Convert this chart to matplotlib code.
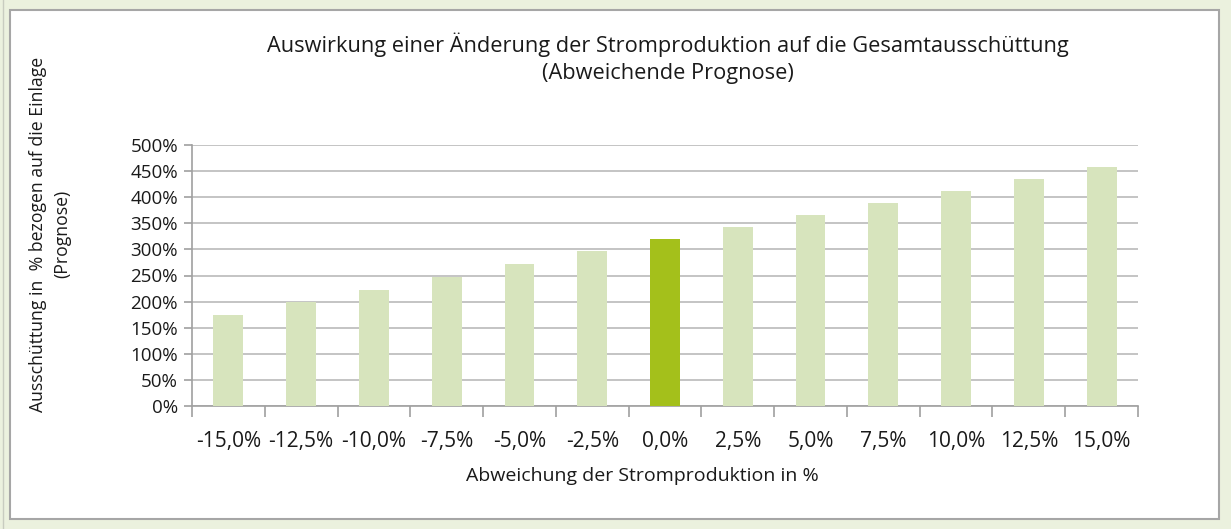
import matplotlib
matplotlib.use("Agg")
import matplotlib.pyplot as plt
from matplotlib.patches import Rectangle
import numpy as np

categories = ["-15,0%", "-12,5%", "-10,0%", "-7,5%", "-5,0%", "-2,5%", "0,0%",
              "2,5%", "5,0%", "7,5%", "10,0%", "12,5%", "15,0%"]
values = [174, 200, 223, 248, 272, 296, 320, 343, 366, 389, 412, 435, 458]
highlight = "0,0%"
yticks = [0, 50, 100, 150, 200, 250, 300, 350, 400, 450, 500]

plt.rcParams['font.family'] = ['Open Sans', 'DejaVu Sans']

fig = plt.figure(figsize=(12.31, 5.29), dpi=100)
fig.patch.set_facecolor('#EBF1DE')
W, H = 1231, 529
# white chart frame
frame = Rectangle((10 / W, 1 - 519 / H), (1219 - 10) / W, (519 - 10) / H,
                  transform=fig.transFigure, facecolor='white',
                  edgecolor='#A6A6A6', linewidth=1.5, zorder=-5)
fig.add_artist(frame)
fig.add_artist(plt.Line2D([3 / W, 3 / W], [0, 1], transform=fig.transFigure,
                          color='#C8CCC0', linewidth=1, zorder=-5))

ax = fig.add_axes([192 / W, 1 - 406 / H, (1138 - 192) / W, (406 - 145) / H])
ax.set_zorder(2)
ax.set_facecolor('none')
x = np.arange(len(categories))
colors = ['#A4C01B' if c == highlight else '#D7E4BD' for c in categories]
ax.bar(x, values, width=0.41, color=colors, zorder=3)
ax.set_xlim(-0.5, len(categories) - 0.5)
ax.set_ylim(0, 500)
ax.set_yticks(yticks)
ax.set_yticklabels([f"{v}%" for v in yticks], fontsize=13.5, color='#1a1a1a')
ax.set_xticks(x)
ax.set_xticklabels(categories, fontsize=15, color='#1a1a1a')
ax.tick_params(axis='x', length=0, pad=18)
ax.set_xticks(np.arange(-0.5, len(categories) + 0.5, 1), minor=True)
ax.tick_params(axis='x', which='minor', length=8, color='#A0A0A0', width=1.2)
ax.tick_params(axis='y', length=6, color='#A0A0A0', width=1.2, pad=4)
ax.grid(axis='y', color='#BFBFBF', linewidth=1.3, zorder=0)
ax.set_axisbelow(True)
for s in ['top', 'right']:
    ax.spines[s].set_visible(False)
for s in ['left', 'bottom']:
    ax.spines[s].set_color('#A0A0A0')
    ax.spines[s].set_linewidth(1.2)

fig.text(668 / W, 1 - 45 / H, "Auswirkung einer Änderung der Stromproduktion auf die Gesamtausschüttung",
         ha='center', va='center', fontsize=15.7, color='#1a1a1a')
fig.text(668 / W, 1 - 74 / H, "(Abweichende Prognose)",
         ha='center', va='center', fontsize=15.7, color='#1a1a1a')
fig.text(642 / W, 1 - 476 / H, "Abweichung der Stromproduktion in %",
         ha='center', va='center', fontsize=14, color='#1a1a1a')
fig.text(38 / W, 1 - 234 / H, "Ausschüttung in  % bezogen auf die Einlage",
         ha='center', va='center', rotation=90, fontsize=12.7, color='#1a1a1a')
fig.text(62 / W, 1 - 234 / H, "(Prognose)",
         ha='center', va='center', rotation=90, fontsize=12.7, color='#1a1a1a')

fig.savefig("out.png", dpi=100, facecolor=fig.get_facecolor())
